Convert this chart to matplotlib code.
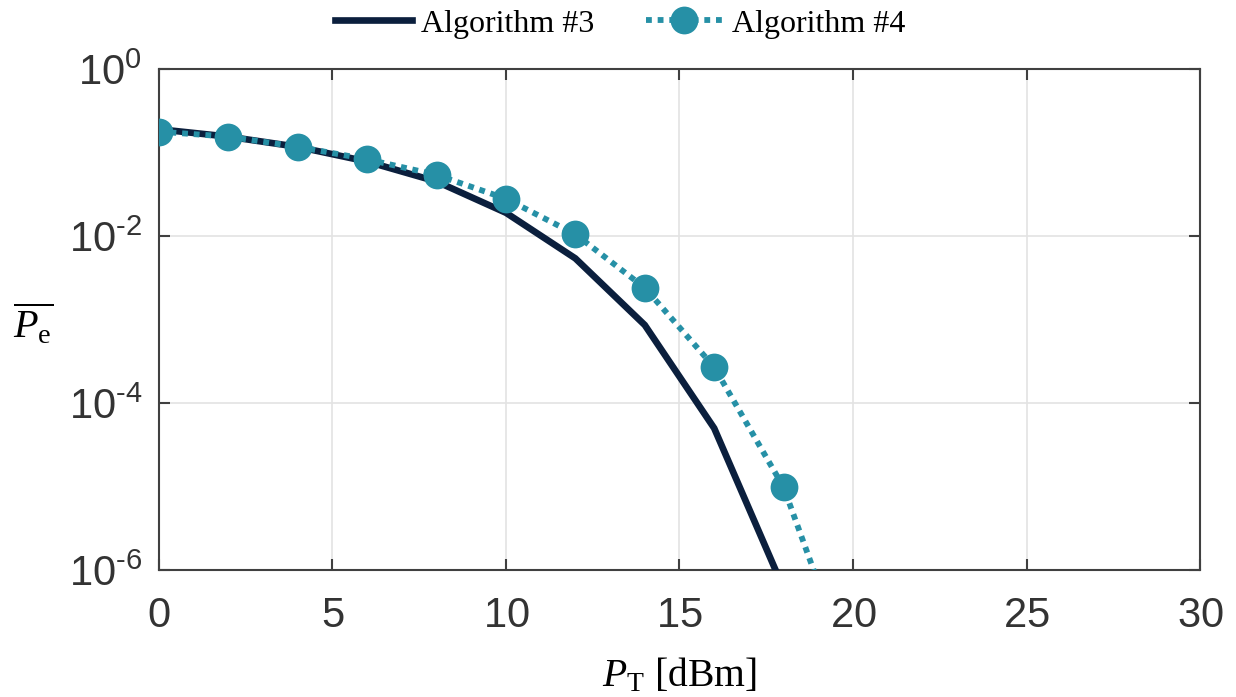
import numpy as np
import matplotlib
matplotlib.use("Agg")
import matplotlib.pyplot as plt
from matplotlib.ticker import FixedLocator, FuncFormatter, NullLocator

# mathtext: serif for labels, sans for tick labels
plt.rcParams['mathtext.fontset'] = 'custom'
plt.rcParams['mathtext.rm'] = 'Liberation Serif'
plt.rcParams['mathtext.it'] = 'Liberation Serif:italic'
plt.rcParams['mathtext.sf'] = 'Liberation Sans'
plt.rcParams['font.family'] = ['Liberation Serif', 'DejaVu Serif']

# data
pt_alg3 = [0, 2, 4, 6, 8, 10, 12, 14, 16, 18]
pe_alg3 = [0.19, 0.155, 0.117, 0.078, 0.045, 0.019, 0.0054, 8.6e-4, 5.0e-5, 6.0e-7]

pt_alg4 = [0, 2, 4, 6, 8, 10, 12, 14, 16, 18, 20]
pe_alg4 = [0.178, 0.155, 0.117, 0.083, 0.054, 0.028, 0.0105, 0.0024, 2.7e-4, 9.8e-6, 5.0e-8]

x_ticks = [0, 5, 10, 15, 20, 25, 30]
y_ticks = [1e-6, 1e-4, 1e-2, 1e0]

navy = '#0b1f3d'
teal = '#2690a6'
spine_col = '#404040'


def y_fmt(v, pos):
    e = int(round(np.log10(v)))
    s = str(e).replace('-', '\u2010')
    return r'$\mathsf{10^{%s}}$' % s


fig = plt.figure(figsize=(12.36, 6.97), dpi=100)
ax = fig.add_axes([0.1285, 0.182, 0.8425, 0.719])

ax.plot(pt_alg3, pe_alg3, color=navy, lw=4.8, solid_joinstyle='miter',
        label='Algorithm #3', zorder=3)
ax.plot(pt_alg4, pe_alg4, color=teal, lw=4.2, dashes=(1.0, 1.0),
        dash_capstyle='butt', marker='o', markersize=20, markeredgewidth=0,
        label='Algorithm #4', zorder=4)

ax.set_yscale('log')
ax.set_xlim(0, 30)
ax.set_ylim(1e-6, 1)
ax.xaxis.set_major_locator(FixedLocator(x_ticks))
ax.yaxis.set_major_locator(FixedLocator(y_ticks))
ax.yaxis.set_minor_locator(NullLocator())
ax.xaxis.set_major_formatter(FuncFormatter(lambda v, p: r'$\mathsf{%d}$' % v))
ax.yaxis.set_major_formatter(FuncFormatter(y_fmt))

ax.grid(True, color='#e3e3e3', lw=1.2, zorder=0)
ax.set_axisbelow(True)
for s in ax.spines.values():
    s.set_color(spine_col)
    s.set_linewidth(1.5)
ax.tick_params(which='both', direction='in', top=True, right=True,
               length=8, width=1.5, color=spine_col,
               labelsize=30, labelcolor='#333333')
ax.tick_params(axis='x', pad=20)
ax.tick_params(axis='y', pad=12)

ax.set_xlabel(r'$\mathit{P}_{\mathrm{T}}$ [dBm]', fontsize=28.5, va='top')
ax.xaxis.set_label_coords(0.5, -0.172)
ax.set_ylabel(r'$\overline{\mathit{P}_{\mathrm{e}}}$', fontsize=29,
              rotation=0, va='center', ha='center')
ax.yaxis.set_label_coords(-0.121, 0.49)

ax.legend(loc='center', bbox_to_anchor=(0.443, 1.09), ncol=2,
          frameon=False, fontsize=23, handlelength=2.4, columnspacing=1.6,
          handletextpad=0.3, borderaxespad=0.0)

fig.savefig('out.png', dpi=100)
